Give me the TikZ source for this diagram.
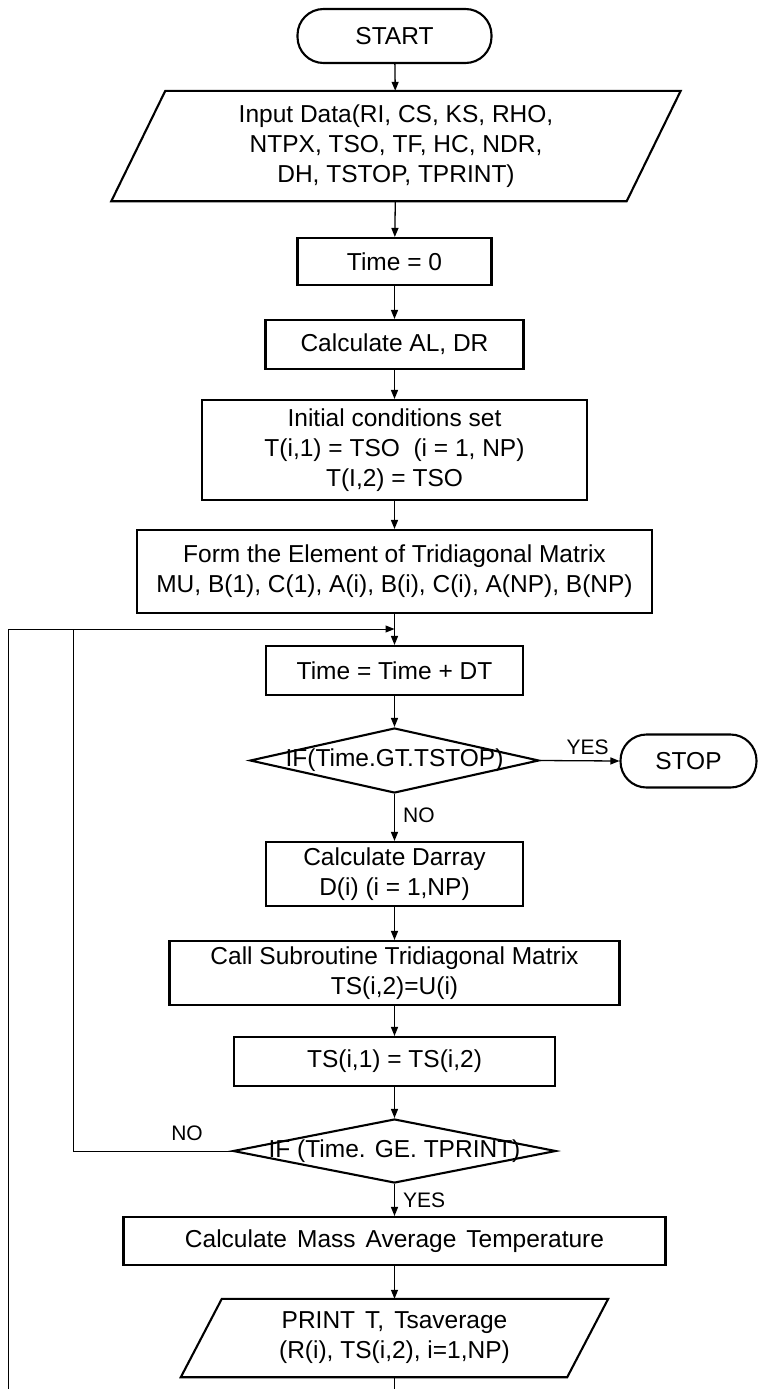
\documentclass[tikz,border=0pt]{standalone}
\usepackage{fontspec}
\setmainfont{Liberation Sans}
\usetikzlibrary{arrows.meta,shapes.geometric}
\begin{document}
\begin{tikzpicture}[x=1pt,y=-1pt,
  font=\fontsize{24.5}{30}\selectfont,
  procbox/.style={draw,line width=2.1pt,inner sep=0pt,align=center},
  termbox/.style={draw,line width=2.1pt,inner sep=0pt,rounded corners=26pt},
  iobox/.style={inner sep=0pt,align=center},
  decision/.style={draw,shape=diamond,line width=2.1pt,inner sep=0pt},
  dtext/.style={inner sep=0pt},
  lbl/.style={inner sep=0pt,font=\fontsize{21}{24}\selectfont},
  conn/.style={line width=1.3pt,-{Triangle[length=9pt,width=7pt]}},
  plain/.style={line width=1.3pt},
  loopline/.style={line width=1pt}
]
\useasboundingbox (0,0) rectangle (758,1389);

% main column
\node[termbox,minimum width=194pt,minimum height=54pt] (start) at (394.5,36) {START};
\node[iobox,minimum width=515pt,minimum height=110pt] (in) at (396,146)
  {Input Data(RI, CS, KS, RHO,\\NTPX, TSO, TF, HC, NDR,\\DH, TSTOP, TPRINT)};
\draw[line width=2.1pt] ([xshift=27pt]in.north west) -- ([xshift=27pt]in.north east)
  -- ([xshift=-27pt]in.south east) -- ([xshift=-27pt]in.south west) -- cycle;
\node[procbox,minimum width=194pt,minimum height=47pt] (t0) at (394.5,261.5) {Time = 0};
\node[procbox,minimum width=258pt,minimum height=49pt] (al) at (394.5,344.5) {Calculate AL, DR};
\node[procbox,minimum width=385pt,minimum height=100pt] (init) at (394.5,450)
  {Initial conditions set\\T(i,1) = TSO\ \ (i = 1, NP)\\T(I,2) = TSO};
\node[procbox,minimum width=515pt,minimum height=83pt] (form) at (394.5,571.5)
  {Form the Element of Tridiagonal Matrix\\MU, B(1), C(1), A(i), B(i), C(i), A(NP), B(NP)};
\node[procbox,minimum width=257pt,minimum height=49pt] (tdt) at (394.5,670.5) {Time = Time + DT};
\node[decision,minimum width=289pt,minimum height=65pt] (d1) at (394.5,760.5) {};
\node[dtext] (d1t) at (d1) {IF(Time.GT.TSTOP)};
\node[termbox,minimum width=136pt,minimum height=53pt] (stop) at (688.5,761) {STOP};
\node[procbox,minimum width=257pt,minimum height=64pt] (darr) at (394.5,874)
  {Calculate Darray\\D(i) (i = 1,NP)};
\node[procbox,minimum width=450pt,minimum height=64pt] (call) at (394.5,973)
  {Call Subroutine Tridiagonal Matrix\\TS(i,2)=U(i)};
\node[procbox,minimum width=321pt,minimum height=49pt] (ts) at (394.5,1061.5) {TS(i,1) = TS(i,2)};
\node[decision,minimum width=323pt,minimum height=64pt] (d2) at (394.5,1151) {};
\node[dtext] (d2t) at (d2) {IF (Time. GE. TPRINT)};
\node[procbox,minimum width=542pt,minimum height=48pt] (mass) at (394.5,1241)
  {\spaceskip=10pt Calculate Mass Average Temperature};
\node[iobox,minimum width=386pt,minimum height=78pt] (prt) at (394.5,1338)
  {\spaceskip=10pt PRINT T, Tsaverage\\(R(i), TS(i,2), i=1,NP)};
\draw[line width=2.1pt] ([xshift=20.5pt]prt.north west) -- ([xshift=20.5pt]prt.north east)
  -- ([xshift=-20.5pt]prt.south east) -- ([xshift=-20.5pt]prt.south west) -- cycle;

% loop points
\coordinate (join) at (394.5,629);
\coordinate (nojoin) at (73,629);
\coordinate (b1) at (394.5,1389);
\coordinate (b2) at (8,1389);

% connectors
\draw[conn] (start) -- (in);
\draw[conn] (in) -- (t0);
\draw[conn] (t0) -- (al);
\draw[conn] (al) -- (init);
\draw[conn] (init) -- (form);
\draw[conn] (form) -- (tdt);
\draw[conn] (tdt) -- (d1.north);
\draw[conn] (d1.east) -- node[lbl,above=5pt,pos=0.6] {YES} (stop.west);
\draw[conn] (d1.south) -- node[lbl,right=8pt,pos=0.45] {NO} (darr.north);
\draw[conn] (darr) -- (call);
\draw[conn] (call) -- (ts);
\draw[conn] (ts) -- (d2.north);
\draw[conn] (d2.south) -- node[lbl,right=8pt,pos=0.5] {YES} (mass.north);
\draw[conn] (mass) -- (prt);
\draw[plain] (prt.south) -- (b1);

% return paths
\draw[loopline,-{Triangle[length=9pt,width=7pt]}] (b2) |- (join);
\draw[loopline] (d2.west) -| (nojoin);
\node[lbl] (nolbl) at (187,1133) {NO};
\end{tikzpicture}
\end{document}
